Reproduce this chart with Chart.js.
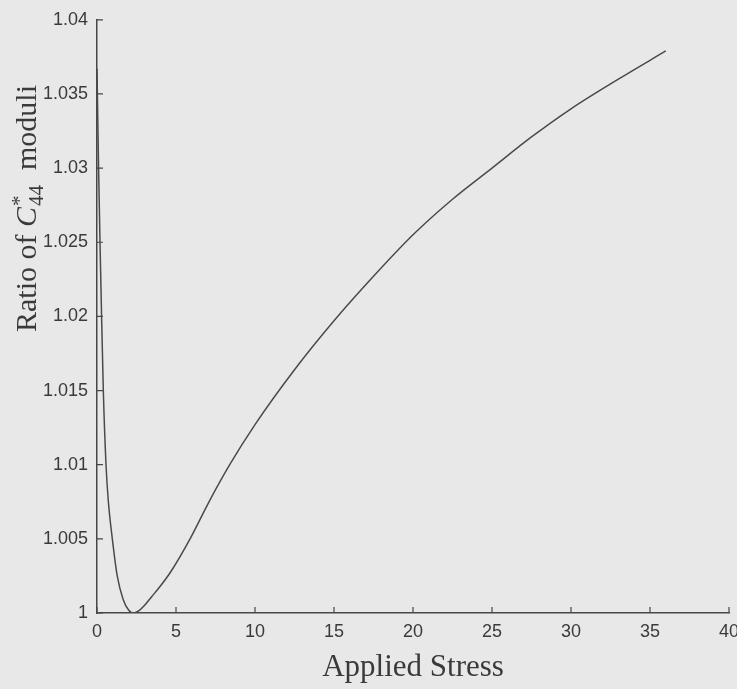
<!DOCTYPE html>
<html>
<head>
<meta charset="utf-8">
<script src="https://cdn.jsdelivr.net/npm/chart.js@4.4.1/dist/chart.umd.min.js"></script>
<style>
  html, body { margin: 0; padding: 0; background: #e8e8e8; }
  #wrap { width: 737px; height: 689px; }
</style>
</head>
<body>
<div id="wrap"><canvas id="chart" width="737" height="689"></canvas></div>
<script>
// valeurs
const stress = [0, 0.1, 0.19, 0.27, 0.4, 0.57, 0.72, 0.97, 1.28, 1.66, 2.0, 2.3, 2.7, 3.0, 3.46, 4.0, 4.68, 5.89, 7.09, 8.4, 10, 12.5, 15, 17.5, 20, 22.5, 25, 27.5, 30, 33, 36];
const ratio = [1.0367, 1.0300, 1.0250, 1.0210, 1.0150, 1.0100, 1.0075, 1.0050, 1.0025, 1.0009, 1.0002, 1.0000, 1.0002, 1.0005, 1.0011, 1.0018, 1.0028, 1.0050, 1.0075, 1.0100, 1.0127, 1.0164, 1.0197, 1.0227, 1.0255, 1.0279, 1.0300, 1.0321, 1.0340, 1.0360, 1.0379];
const xTicks = [0, 5, 10, 15, 20, 25, 30, 35, 40];
const yTicks = [1, 1.005, 1.01, 1.015, 1.02, 1.025, 1.03, 1.035, 1.04];

const axisColor = '#474747';
const textColor = '#3a3a3a';
const serif = '"Liberation Serif", "DejaVu Serif", serif';

// ticks vers l'intérieur, style MATLAB
const innerTicks = {
  id: 'innerTicks',
  afterDraw(chart) {
    const ctx = chart.ctx;
    const xs = chart.scales.x, ys = chart.scales.y;
    const a = chart.chartArea;
    ctx.save();
    ctx.strokeStyle = axisColor;
    ctx.lineWidth = 1.2;
    ctx.beginPath();
    xTicks.forEach(v => {
      const px = xs.getPixelForValue(v);
      ctx.moveTo(px, a.bottom);
      ctx.lineTo(px, a.bottom - 6);
    });
    yTicks.forEach(v => {
      const py = ys.getPixelForValue(v);
      ctx.moveTo(a.left, py);
      ctx.lineTo(a.left + 6, py);
    });
    ctx.stroke();
    ctx.restore();
  }
};

// titre de l'axe y avec C*44
const yTitle = {
  id: 'yTitle',
  afterDraw(chart) {
    const ctx = chart.ctx;
    const size = 30;
    ctx.save();
    ctx.fillStyle = textColor;
    ctx.textBaseline = 'alphabetic';
    ctx.textAlign = 'left';
    ctx.translate(36, 332);
    ctx.rotate(-Math.PI / 2);
    let x = 0;
    ctx.font = size + 'px ' + serif;
    ctx.fillText('Ratio of ', x, 0);
    x += ctx.measureText('Ratio of ').width;
    ctx.font = 'italic ' + size + 'px ' + serif;
    ctx.fillText('C', x, 0);
    x += ctx.measureText('C').width + 1;
    ctx.font = Math.round(size * 0.7) + 'px ' + serif;
    ctx.fillText('*', x, -size * 0.35);
    ctx.fillText('44', x, size * 0.22);
    x += ctx.measureText('44').width;
    ctx.font = size + 'px ' + serif;
    ctx.fillText('  moduli', x, 0);
    ctx.restore();
  }
};

new Chart(document.getElementById('chart'), {
  type: 'scatter',
  data: {
    datasets: [{
      label: 'ratio',
      data: stress.map((s, i) => ({ x: s, y: ratio[i] })),
      showLine: true,
      borderColor: '#4a4a4a',
      borderWidth: 1.5,
      pointRadius: 0,
      cubicInterpolationMode: 'monotone',
      fill: false
    }]
  },
  options: {
    responsive: false,
    animation: false,
    layout: { padding: { top: 14, right: 8, left: 0, bottom: 0 } },
    plugins: {
      legend: { display: false },
      tooltip: { enabled: false }
    },
    scales: {
      x: {
        type: 'linear',
        min: 0, max: 40,
        afterBuildTicks: s => { s.ticks = xTicks.map(v => ({ value: v })); },
        afterFit: s => { s.height = 76; s.paddingRight = 0; s.paddingLeft = 0; },
        grid: { drawOnChartArea: false, drawTicks: false },
        border: { display: true, color: axisColor, width: 1.5 },
        ticks: {
          padding: 8,
          color: textColor,
          font: { family: '"Liberation Sans", Arial, sans-serif', size: 18 },
          maxRotation: 0
        },
        title: {
          display: true,
          text: 'Applied Stress',
          color: textColor,
          font: { family: serif, size: 31 },
          padding: { top: 0, bottom: 3 }
        }
      },
      y: {
        type: 'linear',
        min: 1, max: 1.04,
        afterBuildTicks: s => { s.ticks = yTicks.map(v => ({ value: v })); },
        afterFit: s => { s.width = 97; },
        grid: { drawOnChartArea: false, drawTicks: false },
        border: { display: true, color: axisColor, width: 1.5 },
        ticks: {
          padding: 9,
          color: textColor,
          font: { family: '"Liberation Sans", Arial, sans-serif', size: 18 },
          callback: v => String(Number(v.toFixed(3)))
        }
      }
    }
  },
  plugins: [innerTicks, yTitle]
});
</script>
</body>
</html>
